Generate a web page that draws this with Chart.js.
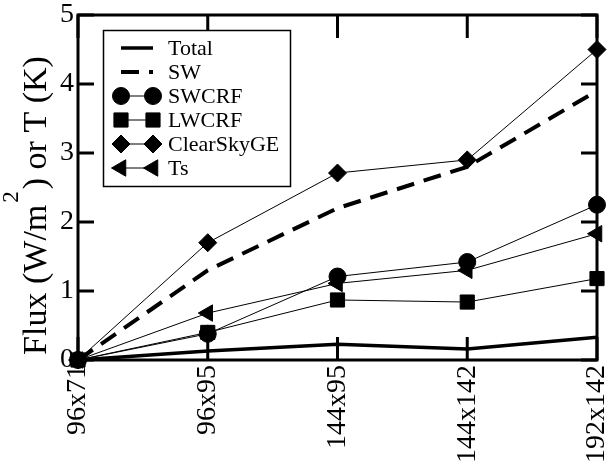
<!DOCTYPE html>
<html>
<head>
<meta charset="utf-8">
<script src="https://cdn.jsdelivr.net/npm/chart.js@4.4.0/dist/chart.umd.min.js"></script>
<style>
  html, body { margin: 0; padding: 0; background: #fff; }
  #wrap { width: 608px; height: 468px; position: relative; }
  .warm { position: absolute; left: -999px; top: 0; font-family: "Liberation Serif"; }
</style>
</head>
<body>
<span class="warm">Flux 0123456789x</span>
<div id="wrap"><canvas id="fluxChart"></canvas></div>
<script>
// ---------- Data ----------
const resolutions = ['96x71', '96x95', '144x95', '144x142', '192x142'];
const totalFlux   = [0, 0.13, 0.23, 0.16, 0.33];
const swFlux      = [0, 1.30, 2.20, 2.80, 3.90];
const swcrf       = [0, 0.38, 1.21, 1.42, 2.25];
const lwcrf       = [0, 0.40, 0.87, 0.84, 1.18];
const clearSkyGE  = [0, 1.70, 2.71, 2.90, 4.50];
const tsChange    = [0, 0.68, 1.11, 1.30, 1.83];
const yTicks      = [0, 1, 2, 3, 4, 5];

const SERIF = '"Liberation Serif", "Times New Roman", Times, serif';
const INK = '#000';

// ---------- Plugins ----------
// box frame with inward ticks on all four sides
const framePlugin = {
  id: 'frame',
  beforeDatasetsDraw(chart) {
    const { ctx, chartArea: a, scales: { x, y } } = chart;
    ctx.save();
    ctx.strokeStyle = INK;
    ctx.lineWidth = 3;
    ctx.strokeRect(a.left, a.top, a.right - a.left, a.bottom - a.top);
    ctx.beginPath();
    y.ticks.forEach((t) => {
      const py = y.getPixelForValue(t.value);
      const len = yTicks.includes(t.value) ? 16 : 9;
      ctx.moveTo(a.left, py); ctx.lineTo(a.left + len, py);
      ctx.moveTo(a.right, py); ctx.lineTo(a.right - len, py);
    });
    x.ticks.forEach((t, i) => {
      const px = x.getPixelForTick(i);
      ctx.moveTo(px, a.top); ctx.lineTo(px, a.top + 23);
      ctx.moveTo(px, a.bottom); ctx.lineTo(px, a.bottom - 23);
    });
    ctx.stroke();
    ctx.restore();
  },
};

// legend: line sample with a marker at each end
const legendPlugin = {
  id: 'boxLegend',
  afterDatasetsDraw(chart) {
    const ctx = chart.ctx;
    const box = { x: 103, y: 30, w: 187, h: 156 };
    ctx.save();
    ctx.fillStyle = '#fff';
    ctx.fillRect(box.x, box.y, box.w, box.h);
    ctx.strokeStyle = INK;
    ctx.lineWidth = 1.5;
    ctx.strokeRect(box.x + 0.5, box.y + 0.5, box.w, box.h);
    ctx.font = '22px ' + SERIF;
    ctx.textBaseline = 'middle';
    chart.data.datasets.forEach((ds, i) => {
      const yy = 48 + i * 24;
      const x0 = 121, x1 = 153;
      ctx.strokeStyle = INK;
      ctx.fillStyle = INK;
      ctx.lineWidth = ds.borderWidth;
      ctx.setLineDash(ds.borderDash || []);
      ctx.beginPath();
      ctx.moveTo(x0, yy); ctx.lineTo(x1, yy);
      ctx.stroke();
      ctx.setLineDash([]);
      if (ds.pointRadius > 0) {
        [x0, x1].forEach((px) => {
          Chart.helpers.drawPoint(ctx, {
            pointStyle: ds.pointStyle,
            radius: ds.pointRadius,
            rotation: ds.pointRotation || 0,
            borderWidth: 1,
          }, px, yy);
        });
      }
      ctx.fillText(ds.label, 168, yy + 1);
    });
    ctx.restore();
  },
};

// rotated y-axis title with a raised exponent
const yTitlePlugin = {
  id: 'yTitle',
  afterDraw(chart) {
    const { ctx, chartArea: a } = chart;
    const parts = [
      { t: 'Flux (W/m', size: 34, rise: 0 },
      { t: '2', size: 23, rise: 28 },
      { t: ') or T (K)', size: 34, rise: 0 },
    ];
    ctx.save();
    ctx.fillStyle = INK;
    ctx.textBaseline = 'alphabetic';
    let width = 0;
    parts.forEach((p) => {
      ctx.font = p.size + 'px ' + SERIF;
      p.w = ctx.measureText(p.t).width + (p.rise ? 4 : 0);
      width += p.w;
    });
    const cy = (a.top + a.bottom) / 2 + 18;
    ctx.translate(46, cy + width / 2);
    ctx.rotate(-Math.PI / 2);
    let cx = 0;
    parts.forEach((p) => {
      ctx.font = p.size + 'px ' + SERIF;
      ctx.fillText(p.t, cx + (p.rise ? 2 : 0), -p.rise);
      cx += p.w;
    });
    ctx.restore();
  },
};

// ---------- Chart ----------
function series(label, data, extra) {
  return Object.assign({
    label,
    data,
    borderColor: INK,
    backgroundColor: INK,
    pointBackgroundColor: INK,
    pointBorderColor: INK,
    pointBorderWidth: 1,
    borderWidth: 1,
    pointRadius: 0,
    tension: 0,
    clip: false,
  }, extra);
}

function makeChart() {
  new Chart(document.getElementById('fluxChart'), {
    type: 'line',
    data: {
      labels: resolutions,
      datasets: [
        series('Total', totalFlux, { borderWidth: 3.5 }),
        series('SW', swFlux, { borderWidth: 4, borderDash: [18, 10] }),
        series('SWCRF', swcrf, { pointStyle: 'circle', pointRadius: 8.5 }),
        series('LWCRF', lwcrf, { pointStyle: 'rect', pointRadius: 10 }),
        series('ClearSkyGE', clearSkyGE, { pointStyle: 'rectRot', pointRadius: 9 }),
        series('Ts', tsChange, { pointStyle: 'triangle', pointRadius: 9.5, pointRotation: -90 }),
      ],
    },
    options: {
      responsive: true,
      maintainAspectRatio: false,
      animation: false,
      events: [],
      layout: { padding: { top: 15, right: 8, left: 0, bottom: 0 } },
      plugins: {
        legend: { display: false },
        tooltip: { enabled: false },
      },
      scales: {
        x: {
          type: 'category',
          offset: false,
          grid: { display: false, drawTicks: false },
          border: { display: false },
          ticks: {
            color: INK,
            font: { family: SERIF, size: 28 },
            minRotation: 90,
            maxRotation: 90,
            autoSkip: false,
            padding: 5,
          },
          afterFit: (s) => {
            s.height = 108;
            s.paddingLeft = 0;
            s.paddingRight = 0;
          },
        },
        y: {
          min: 0,
          max: 5,
          grid: { display: false, drawTicks: false },
          border: { display: false },
          ticks: {
            stepSize: 0.5,
            color: INK,
            font: { family: SERIF, size: 28 },
            padding: 4,
            callback: (v) => (yTicks.includes(v) ? String(v) : ''),
          },
          afterFit: (s) => {
            s.width = 78;
            s.paddingTop = 0;
            s.paddingBottom = 0;
          },
        },
      },
    },
    plugins: [framePlugin, legendPlugin, yTitlePlugin],
  });
}

// make sure the serif face is ready before the canvas text is drawn
Promise.all([
  document.fonts.load('28px "Liberation Serif"'),
  document.fonts.load('22px "Liberation Serif"'),
]).catch(() => {}).then(makeChart);
</script>
</body>
</html>
